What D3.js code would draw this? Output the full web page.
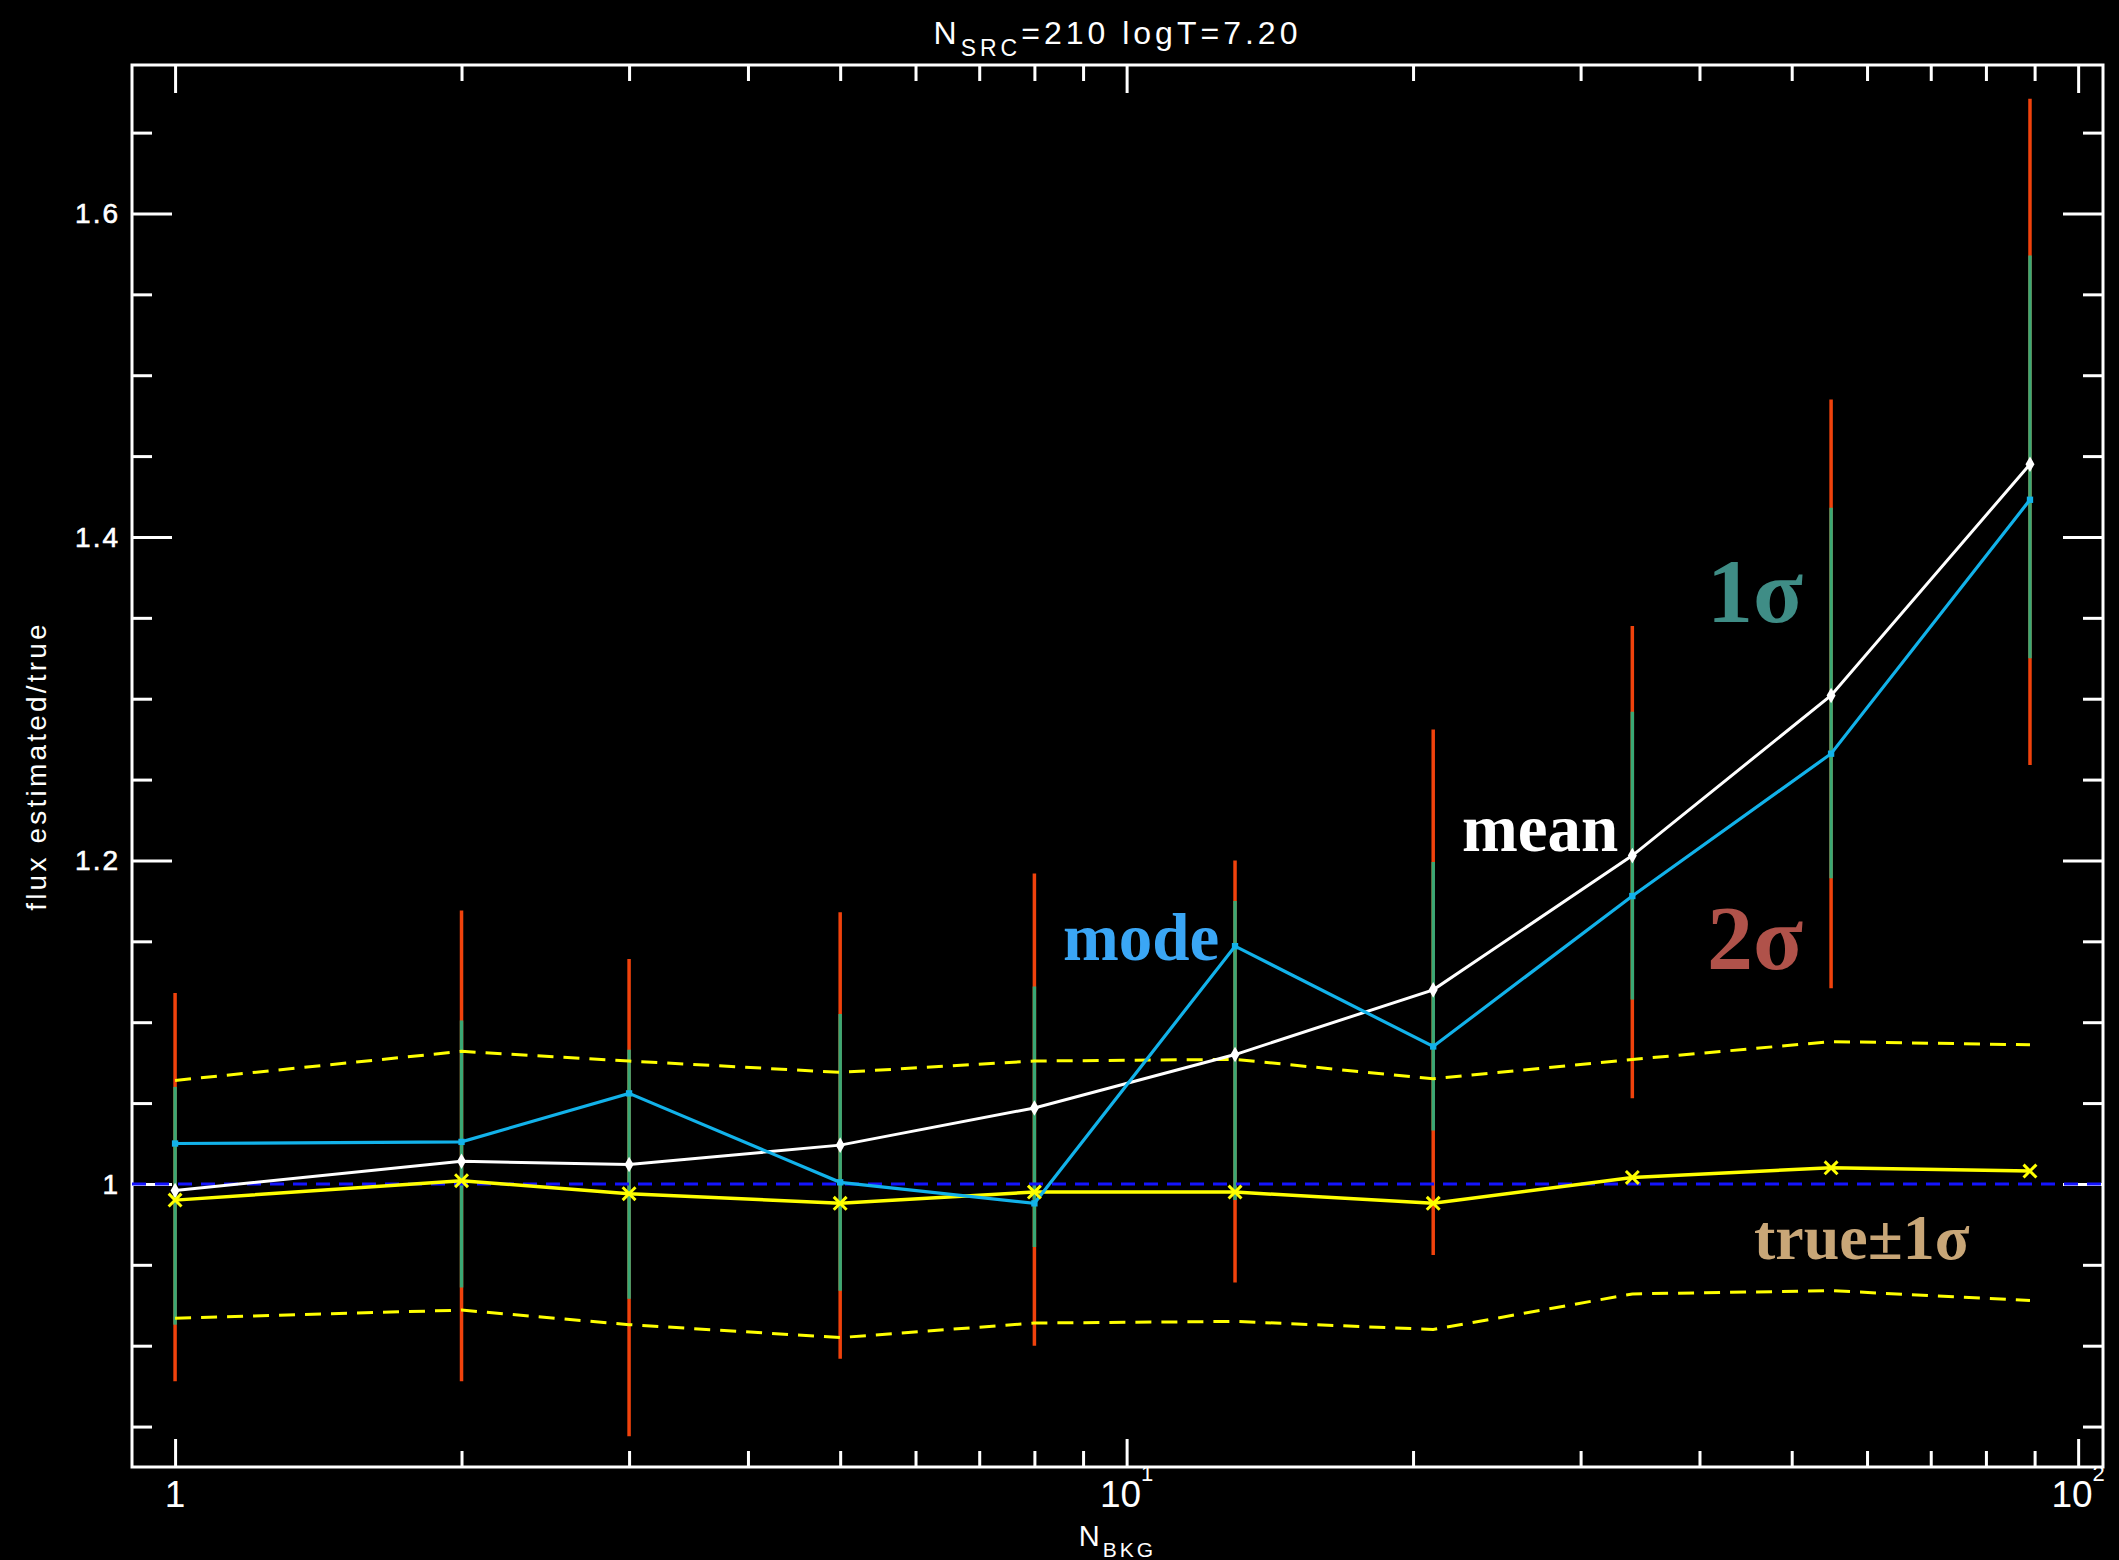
<!DOCTYPE html>
<html>
<head>
<meta charset="utf-8">
<script src="https://cdn.jsdelivr.net/npm/d3@7"></script>
<style>
  html, body { margin: 0; padding: 0; background: #000; }
</style>
</head>
<body>
<script>
// N_BKG values (x) and the ratios
const nbkg = [1, 2, 3, 5, 8, 13, 21, 34, 55, 89];
const meanVals = [0.996, 1.014, 1.012, 1.024, 1.047, 1.080, 1.120, 1.203, 1.302, 1.445];
const modeVals = [1.025, 1.026, 1.056, 1.001, 0.988, 1.147, 1.085, 1.178, 1.266, 1.423];
const trueVals = [0.990, 1.002, 0.994, 0.988, 0.995, 0.995, 0.988, 1.004, 1.010, 1.008];
const trueHi = [1.064, 1.082, 1.076, 1.069, 1.076, 1.077, 1.065, 1.077, 1.088, 1.086];
const trueLo = [0.917, 0.922, 0.913, 0.905, 0.914, 0.915, 0.910, 0.932, 0.934, 0.928];
// error bars: 1 sigma (green) and 2 sigma (red)
const hi1 = [1.060, 1.101, 1.083, 1.105, 1.122, 1.175, 1.199, 1.292, 1.418, 1.574];
const lo1 = [0.913, 0.936, 0.929, 0.934, 0.961, 0.990, 1.033, 1.114, 1.189, 1.325];
const hi2 = [1.118, 1.169, 1.139, 1.168, 1.192, 1.200, 1.281, 1.345, 1.485, 1.671];
const lo2 = [0.878, 0.878, 0.844, 0.892, 0.900, 0.939, 0.956, 1.053, 1.121, 1.259];

const yMajor = [1.0, 1.2, 1.4, 1.6];
const yMinor = [0.85, 0.9, 0.95, 1.05, 1.1, 1.15, 1.25, 1.3, 1.35, 1.45, 1.5, 1.55, 1.65];
const yTickLabels = ["1", "1.2", "1.4", "1.6"];
const xMajor = [1, 10, 100];
const xMinor = [2, 3, 4, 5, 6, 7, 8, 9, 20, 30, 40, 50, 60, 70, 80, 90];
const xTickBase = ["1", "10", "10"];
const xTickExp = ["", "1", "2"];

function main() {
    let width = 2119, height = 1560;
    let left = 132, right = 2103, top = 65, bottom = 1467;

    let svg = d3.select("body").append("svg")
        .attr("width", width)
        .attr("height", height)
        .style("background", "#000");

    svg.append("rect").attr("width", width).attr("height", height).attr("fill", "#000");

    let x = d3.scaleLog().domain([0.901, 106.2]).range([left, right]);
    let y = d3.scaleLinear().domain([0.825, 1.6918]).range([bottom, top]);

    let axisFont = "'Liberation Sans', Arial, sans-serif";

    // ticks on all four sides (IDL style, pointing inward)
    function drawAxis(axis, tx, ty) {
        let g = svg.append("g")
            .attr("transform", "translate(" + tx + "," + ty + ")")
            .call(axis);
        g.select(".domain").remove();
        g.selectAll("line").attr("stroke", "#fff").attr("stroke-width", 3);
        g.selectAll("text").remove();
    }
    drawAxis(d3.axisBottom(x).tickValues(xMajor).tickSize(-28), 0, bottom);
    drawAxis(d3.axisBottom(x).tickValues(xMinor).tickSize(-16), 0, bottom);
    drawAxis(d3.axisTop(x).tickValues(xMajor).tickSize(-28), 0, top);
    drawAxis(d3.axisTop(x).tickValues(xMinor).tickSize(-16), 0, top);
    drawAxis(d3.axisLeft(y).tickValues(yMajor).tickSize(-40), left, 0);
    drawAxis(d3.axisLeft(y).tickValues(yMinor).tickSize(-20), left, 0);
    drawAxis(d3.axisRight(y).tickValues(yMajor).tickSize(-40), right, 0);
    drawAxis(d3.axisRight(y).tickValues(yMinor).tickSize(-20), right, 0);

    svg.append("rect")
        .attr("x", left).attr("y", top)
        .attr("width", right - left).attr("height", bottom - top)
        .attr("fill", "none").attr("stroke", "#fff").attr("stroke-width", 3);

    // y tick labels
    svg.selectAll(".ylab")
        .data(yMajor)
        .enter()
        .append("text")
        .attr("x", left - 12)
        .attr("y", d => y(d) + 10)
        .attr("text-anchor", "end")
        .attr("font-family", axisFont)
        .attr("font-size", "28px")
        .attr("letter-spacing", "2px")
        .attr("fill", "#fff")
        .attr("stroke", "#fff")
        .attr("stroke-width", 0.6)
        .text((d, i) => yTickLabels[i]);

    // x tick labels with exponents
    let xl = svg.selectAll(".xlab")
        .data(xMajor)
        .enter()
        .append("text")
        .attr("x", d => x(d))
        .attr("y", 1507)
        .attr("text-anchor", "middle")
        .attr("font-family", axisFont)
        .attr("font-size", "37px")
        .attr("fill", "#fff");
    xl.append("tspan").text((d, i) => xTickBase[i]);
    xl.append("tspan")
        .attr("dy", -26)
        .attr("font-size", "22px")
        .text((d, i) => xTickExp[i]);

    // title
    let title = svg.append("text")
        .attr("x", (left + right) / 2)
        .attr("y", 44)
        .attr("text-anchor", "middle")
        .attr("font-family", axisFont)
        .attr("font-size", "32px")
        .attr("letter-spacing", "4px")
        .attr("fill", "#fff");
    title.append("tspan").text("N");
    title.append("tspan").attr("dy", 12).attr("font-size", "23px").text("SRC");
    title.append("tspan").attr("dy", -12).text("=210 logT=7.20");

    // x axis title
    let xt = svg.append("text")
        .attr("x", (left + right) / 2)
        .attr("y", 1546)
        .attr("text-anchor", "middle")
        .attr("font-family", axisFont)
        .attr("font-size", "29px")
        .attr("letter-spacing", "3px")
        .attr("fill", "#fff");
    xt.append("tspan").text("N");
    xt.append("tspan").attr("dy", 11).attr("font-size", "21px").text("BKG");

    // y axis title
    svg.append("text")
        .attr("transform", "translate(46," + 766 + ") rotate(-90)")
        .attr("text-anchor", "middle")
        .attr("font-family", axisFont)
        .attr("font-size", "28px")
        .attr("letter-spacing", "3.2px")
        .attr("fill", "#fff")
        .text("flux estimated/true");

    let idx = d3.range(nbkg.length);

    // error bars: 2 sigma red underneath, 1 sigma green on top
    svg.selectAll(".bar2")
        .data(idx)
        .enter()
        .append("line")
        .attr("x1", i => x(nbkg[i])).attr("x2", i => x(nbkg[i]))
        .attr("y1", i => y(lo2[i])).attr("y2", i => y(hi2[i]))
        .attr("stroke", "#f0420c").attr("stroke-width", 3.5);

    svg.selectAll(".bar1")
        .data(idx)
        .enter()
        .append("line")
        .attr("x1", i => x(nbkg[i])).attr("x2", i => x(nbkg[i]))
        .attr("y1", i => y(lo1[i])).attr("y2", i => y(hi1[i]))
        .attr("stroke", "#3aa874").attr("stroke-width", 3.5);

    // reference line at 1
    svg.append("line")
        .attr("x1", left).attr("x2", right)
        .attr("y1", y(1)).attr("y2", y(1))
        .attr("stroke", "#1414ff").attr("stroke-width", 3)
        .attr("stroke-dasharray", "14,9");

    let line = vals => d3.line()
        .x(i => x(nbkg[i]))
        .y(i => y(vals[i]))(idx);

    svg.append("path").attr("d", line(trueHi))
        .attr("fill", "none").attr("stroke", "#ffff00").attr("stroke-width", 3)
        .attr("stroke-dasharray", "16,10");
    svg.append("path").attr("d", line(trueLo))
        .attr("fill", "none").attr("stroke", "#ffff00").attr("stroke-width", 3)
        .attr("stroke-dasharray", "16,10");
    svg.append("path").attr("d", line(trueVals))
        .attr("fill", "none").attr("stroke", "#ffff00").attr("stroke-width", 3.5);
    svg.append("path").attr("d", line(meanVals))
        .attr("fill", "none").attr("stroke", "#ffffff").attr("stroke-width", 3);
    svg.append("path").attr("d", line(modeVals))
        .attr("fill", "none").attr("stroke", "#12b2ea").attr("stroke-width", 3.2);

    // markers
    svg.selectAll(".mmean")
        .data(idx)
        .enter()
        .append("path")
        .attr("d", d3.symbol().type(d3.symbolDiamond).size(70))
        .attr("transform", i => "translate(" + x(nbkg[i]) + "," + y(meanVals[i]) + ")")
        .attr("fill", "#fff");

    svg.selectAll(".mmode")
        .data(idx)
        .enter()
        .append("path")
        .attr("d", d3.symbol().type(d3.symbolSquare).size(40))
        .attr("transform", i => "translate(" + x(nbkg[i]) + "," + y(modeVals[i]) + ")")
        .attr("fill", "#12b2ea");

    let xSym = d3.symbolX || d3.symbolCross;
    let rot = d3.symbolX ? 0 : 45;
    svg.selectAll(".mtrue")
        .data(idx)
        .enter()
        .append("path")
        .attr("d", d3.symbol().type(xSym).size(110))
        .attr("transform", i => "translate(" + x(nbkg[i]) + "," + y(trueVals[i]) + ") rotate(" + rot + ")")
        .attr("fill", d3.symbolX ? "none" : "#ffff00")
        .attr("stroke", "#ffff00")
        .attr("stroke-width", 3);

    // annotations
    let serif = "'Liberation Serif', 'Times New Roman', serif";
    let notes = [
        { t: "mode", x: 1063, y: 960, s: 67, c: "#3aa6f5" },
        { t: "mean", x: 1462, y: 851, s: 67, c: "#ffffff" },
        { t: "1σ", x: 1707, y: 622, s: 92, c: "#3f8d86" },
        { t: "2σ", x: 1707, y: 969, s: 92, c: "#b0524a" },
        { t: "true±1σ", x: 1754, y: 1259, s: 64, c: "#c8a677" }
    ];
    svg.selectAll(".note")
        .data(notes)
        .enter()
        .append("text")
        .attr("x", d => d.x)
        .attr("y", d => d.y)
        .attr("font-family", serif)
        .attr("font-weight", "bold")
        .attr("font-size", d => d.s + "px")
        .attr("fill", d => d.c)
        .text(d => d.t);
}

main();
</script>
</body>
</html>
